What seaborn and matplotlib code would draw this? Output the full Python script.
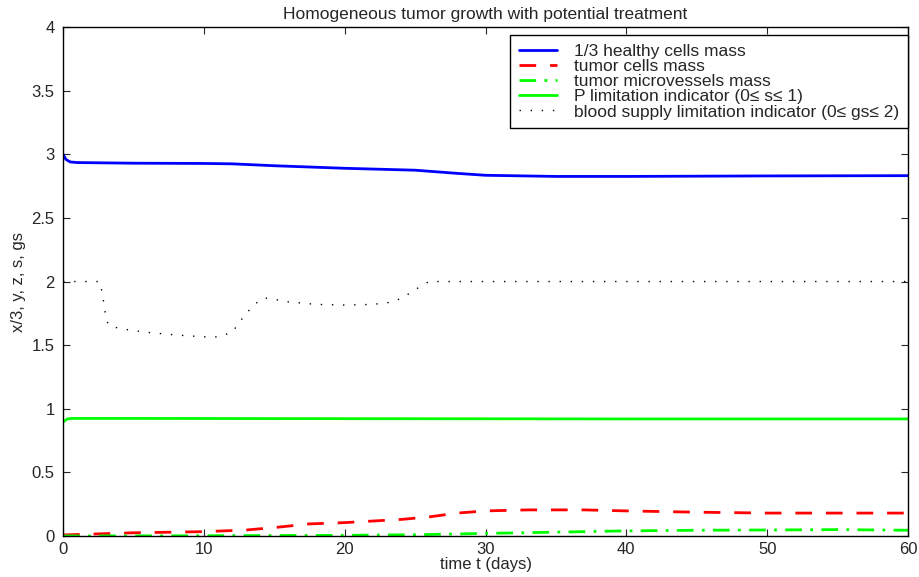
import numpy as np
import matplotlib as mpl
mpl.use('Agg')
import matplotlib.pyplot as plt
import seaborn as sns
import pandas as pd

# values
t_x = [0, 0.2, 0.5, 1, 5, 10, 12, 15, 20, 25, 28, 30, 35, 40, 50, 60]
x_third = [3.0, 2.96, 2.94, 2.935, 2.93, 2.928, 2.925, 2.91, 2.89, 2.875, 2.85, 2.835, 2.826, 2.826, 2.83, 2.832]

t_y = [0, 5, 10, 13, 15, 17.5, 20, 24, 26, 28, 30, 33, 37, 40, 45, 50, 60]
y_tumor = [0.008, 0.025, 0.034, 0.047, 0.066, 0.095, 0.105, 0.13, 0.15, 0.18, 0.197, 0.205, 0.205, 0.197, 0.187, 0.18, 0.18]

t_z = [0, 10, 20, 25, 30, 35, 40, 45, 50, 55, 60]
z_vessels = [0.0, 0.002, 0.005, 0.01, 0.02, 0.03, 0.04, 0.045, 0.047, 0.05, 0.045]

t_s = [0, 0.3, 0.6, 5, 20, 40, 60]
s_limit = [0.895, 0.92, 0.924, 0.924, 0.922, 0.92, 0.92]

t_gs = [0, 2.6, 2.8, 3.0, 3.2, 4, 6, 8, 10, 11, 12, 13, 14, 14.5, 16, 18, 20, 22, 23.5, 24.5, 25.5, 26, 60]
gs_limit = [2.0, 2.0, 1.9, 1.75, 1.66, 1.63, 1.6, 1.58, 1.565, 1.565, 1.6, 1.75, 1.86, 1.87, 1.84, 1.82, 1.815, 1.82, 1.84, 1.9, 1.97, 2.0, 2.0]

labels = ['1/3 healthy cells mass', 'tumor cells mass', 'tumor microvessels mass',
          'P limitation indicator (0≤ s≤ 1)', 'blood supply limitation indicator (0≤ gs≤ 2)']

sns.set_style('ticks')
plt.rcParams['font.family'] = ['Liberation Sans', 'DejaVu Sans']

fig = plt.figure(figsize=(9.19, 5.77), dpi=100)
ax = fig.add_axes([0.0686, 0.0711, 0.9194, 0.882])

series = [
    (t_x, x_third, '#0000ff', None, 2.0),
    (t_y, y_tumor, '#ff0000', (6, 5), 2.0),
    (t_z, z_vessels, '#00ff00', (6, 3, 1, 3), 2.0),
    (t_s, s_limit, '#00ff00', None, 2.0),
    (t_gs, gs_limit, 'black', (1, 7), 1.0),
]
for (tt, vv, col, dash, lw), lab in zip(series, labels):
    df = pd.DataFrame({'t': tt, 'v': vv})
    sns.lineplot(data=df, x='t', y='v', color=col, lw=lw, ax=ax, label=lab)
    if dash is not None:
        ax.lines[-1].set_dashes(dash)

ax.set_xlim(0, 60)
ax.set_ylim(0, 4)
ax.set_xticks(np.arange(0, 61, 10))
ax.set_yticks(np.arange(0, 4.01, 0.5))
ax.set_yticklabels(['0', '0.5', '1', '1.5', '2', '2.5', '3', '3.5', '4'])
ax.tick_params(direction='in', top=True, right=True, labelsize=12, length=5, width=0.8)
ax.tick_params(axis='x', pad=4)
ax.tick_params(axis='y', pad=6)
for sp in ax.spines.values():
    sp.set_linewidth(1.0)
    sp.set_color('black')
ax.set_xlabel('time t (days)', fontsize=12, labelpad=0)
ax.set_ylabel('x/3, y, z, s, gs', fontsize=12, labelpad=4)
ax.set_title('Homogeneous tumor growth with potential treatment', fontsize=12.5, pad=6)

leg = ax.legend(loc='upper right', bbox_to_anchor=(1.0, 1 - 8 / 509), fontsize=12.5,
                frameon=True, fancybox=False, edgecolor='black', borderaxespad=0,
                handlelength=2.2, labelspacing=0.0, borderpad=0.5, handletextpad=1.0)
leg.get_frame().set_linewidth(1.0)
leg.get_frame().set_alpha(1)

fig.savefig('out.png', dpi=100)
